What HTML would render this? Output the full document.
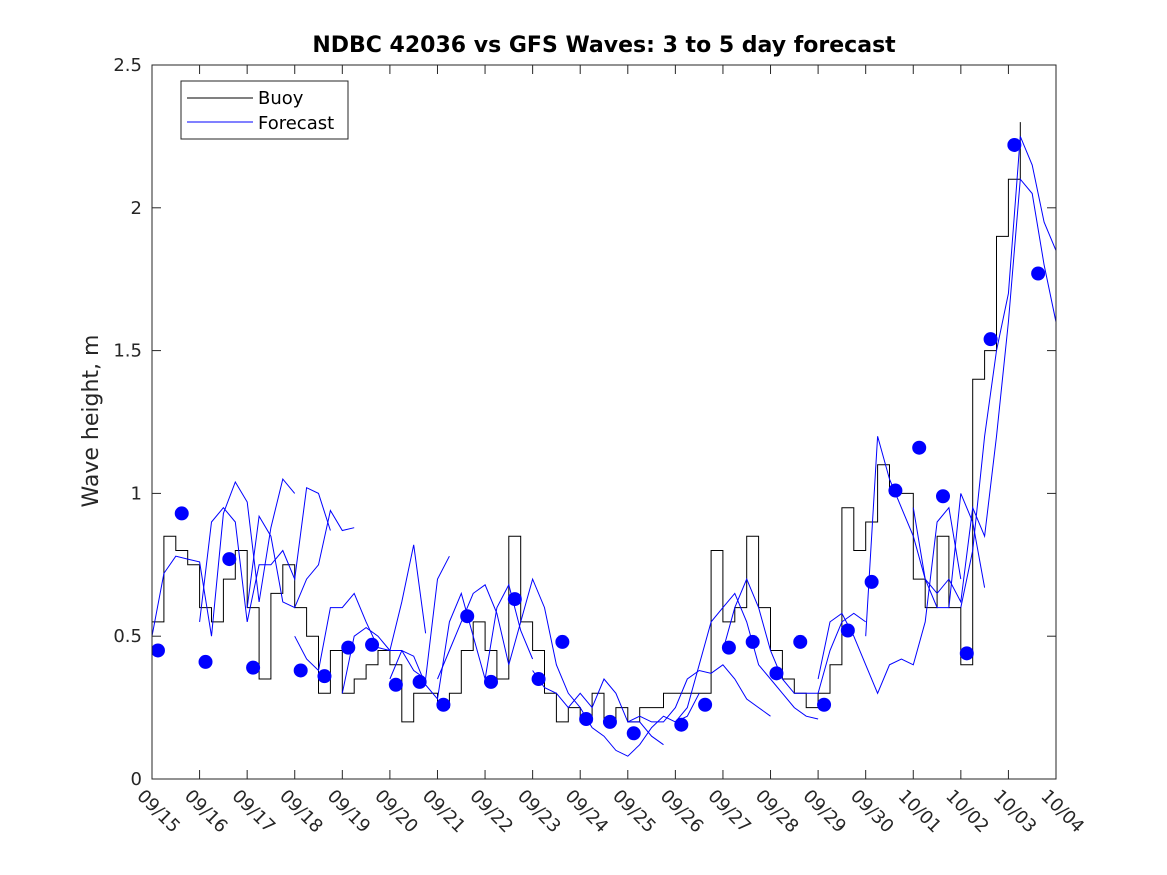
<!DOCTYPE html>
<html><head><meta charset="utf-8"><style>
html,body{margin:0;padding:0;background:#fff;}
svg{display:block;font-family:"DejaVu Sans","Liberation Sans",sans-serif;}
</style></head><body>
<svg id="chart" width="1167" height="875">
<defs><clipPath id="pc"><rect x="152" y="65" width="904" height="714"/></clipPath></defs>
<rect x="0" y="0" width="1167" height="875" fill="#fff"/>
<text x="604" y="52" text-anchor="middle" font-size="22" font-weight="bold">NDBC 42036 vs GFS Waves: 3 to 5 day forecast</text>
<text transform="translate(98,421) rotate(-90)" text-anchor="middle" font-size="22" fill="#262626">Wave height, m</text>
<g id="plot" clip-path="url(#pc)"></g>
<rect x="152" y="65" width="904" height="714" fill="none" stroke="#262626" stroke-width="1"/>
<g id="axes"></g>
<g>
<rect x="181" y="81" width="167" height="58" fill="#fff" stroke="#262626"/>
<line x1="187" y1="98" x2="253" y2="98" stroke="#000"/>
<text x="258" y="104" font-size="18">Buoy</text>
<line x1="187" y1="122" x2="253" y2="122" stroke="#00f"/>
<text x="258" y="129" font-size="18">Forecast</text>
</g>
</svg>
<script>
const tickLabels=["09/15","09/16","09/17","09/18","09/19","09/20","09/21","09/22","09/23","09/24","09/25","09/26","09/27","09/28","09/29","09/30","10/01","10/02","10/03","10/04"];
const yTicks=[0,0.5,1,1.5,2,2.5];
const yTickLabels=["0","0.5","1","1.5","2","2.5"];
const buoy=[0.55,0.85,0.8,0.75,0.6,0.55,0.7,0.8,0.6,0.35,0.65,0.75,0.6,0.5,0.3,0.45,0.3,0.35,0.4,0.45,0.4,0.2,0.3,0.3,0.25,0.3,0.45,0.55,0.45,0.35,0.85,0.55,0.45,0.3,0.2,0.25,0.2,0.3,0.2,0.25,0.2,0.25,0.25,0.3,0.3,0.3,0.3,0.8,0.55,0.6,0.85,0.6,0.45,0.35,0.3,0.25,0.3,0.4,0.95,0.8,0.9,1.1,1.0,1.0,0.7,0.6,0.85,0.6,0.4,1.4,1.5,1.9,2.1,2.3];
const dotDays=[0.125,0.625,1.125,1.625,2.125,3.125,3.625,4.125,4.625,5.125,5.625,6.125,6.625,7.125,7.625,8.125,8.625,9.125,9.625,10.125,11.125,11.625,12.125,12.625,13.125,13.625,14.125,14.625,15.125,15.625,16.125,16.625,17.125,17.625,18.125,18.625];
const dotVals=[0.45,0.93,0.41,0.77,0.39,0.38,0.36,0.46,0.47,0.33,0.34,0.26,0.57,0.34,0.63,0.35,0.48,0.21,0.20,0.16,0.19,0.26,0.46,0.48,0.37,0.48,0.26,0.52,0.69,1.01,1.16,0.99,0.44,1.54,2.22,1.77];
const segStarts=[0,1,2,3,4,5,6,8,9,10,11,12,14,15,16,17];
const segVals=[
[0.5,0.72,0.78,0.77,0.76,0.5,0.93,1.04,0.97,0.62,0.88,1.05,1.0],
[0.55,0.9,0.95,0.9,0.55,0.75,0.75,0.8,0.7,1.02,1.0,0.87],
[0.6,0.92,0.85,0.62,0.6,0.7,0.75,0.94,0.87,0.88],
[0.5,0.42,0.38,0.6,0.6,0.65,0.55,0.46,0.45,0.62,0.82,0.51],
[0.3,0.5,0.53,0.5,0.45,0.45,0.38,0.35,0.7,0.78],
[0.35,0.45,0.43,0.33,0.28,0.55,0.65,0.5,0.35,0.6,0.68,0.52,0.42],
[0.35,0.45,0.55,0.65,0.68,0.58,0.4,0.55,0.7,0.6,0.4,0.3,0.25],
[0.38,0.32,0.3,0.25,0.3,0.25,0.35,0.3,0.2,0.2,0.15,0.12],
[0.25,0.18,0.15,0.1,0.08,0.12,0.18,0.22,0.2,0.22,0.3],
[0.2,0.22,0.2,0.2,0.25,0.35,0.38,0.37,0.4,0.35,0.28,0.25,0.22],
[0.2,0.25,0.4,0.55,0.6,0.65,0.55,0.4,0.35,0.3,0.25,0.22,0.21],
[0.45,0.6,0.7,0.6,0.45,0.35,0.3,0.3,0.3,0.45,0.55,0.58,0.55],
[0.35,0.55,0.58,0.5,0.4,0.3,0.4,0.42,0.4,0.55,0.9,0.95,0.7],
[0.5,1.2,1.05,0.95,0.85,0.7,0.6,0.6,1.0,0.9,0.67],
[0.95,0.7,0.65,0.7,0.62,0.95,0.85,1.2,1.6,2.1,2.05,1.8,1.6,1.55,1.7],
[0.6,0.8,1.2,1.5,1.7,2.25,2.15,1.95,1.85,1.55,1.72]];
const X0=152,X1=1056,Y0=779,Y1=65;
const xs=d=>X0+d*(X1-X0)/19;
const ys=v=>Y0-v*(Y0-Y1)/2.5;
const NS="http://www.w3.org/2000/svg";
const plot=document.getElementById('plot'),axes=document.getElementById('axes');
function mk(t,a,p){const e=document.createElementNS(NS,t);for(const k in a)e.setAttribute(k,a[k]);p.appendChild(e);return e;}
let d="";buoy.forEach((v,i)=>{const x=xs(i*0.25),y=ys(v);d+=(i?"H"+x.toFixed(1)+"V":"M"+x.toFixed(1)+" ")+y.toFixed(1);});
const bl=mk('path',{d:d,fill:'none',stroke:'#000','stroke-width':1},plot);


segVals.forEach((s,j)=>{
 const pts=s.map((v,i)=>xs(segStarts[j]+i*0.25).toFixed(1)+","+ys(v).toFixed(1)).join(" ");
 const pl=mk('polyline',{points:pts,fill:'none',stroke:'#00f','stroke-width':1},plot);
 
 
});
dotDays.forEach((dd,i)=>{
 const c=mk('circle',{cx:xs(dd),cy:ys(dotVals[i]),r:7,fill:'#00f'},plot);
 
 
});
tickLabels.forEach((t,i)=>{
 const x=xs(i);
 mk('line',{x1:x,y1:Y0,x2:x,y2:Y0-9,stroke:'#262626'},axes);
 mk('line',{x1:x,y1:Y1,x2:x,y2:Y1+9,stroke:'#262626'},axes);
 const tx=mk('text',{x:0,y:0,transform:`translate(${x-16},${Y0+18}) rotate(45)`,'font-size':18,fill:'#262626'},axes);
 tx.textContent=t;
 
 
});
yTicks.forEach((v,i)=>{
 const y=ys(v);
 mk('line',{x1:X0,y1:y,x2:X0+9,y2:y,stroke:'#262626'},axes);
 mk('line',{x1:X1,y1:y,x2:X1-9,y2:y,stroke:'#262626'},axes);
 const tx=mk('text',{x:X0-10,y:y+6,'text-anchor':'end','font-size':18,fill:'#262626'},axes);
 tx.textContent=yTickLabels[i];
 
 
});
</script>
</body></html>
